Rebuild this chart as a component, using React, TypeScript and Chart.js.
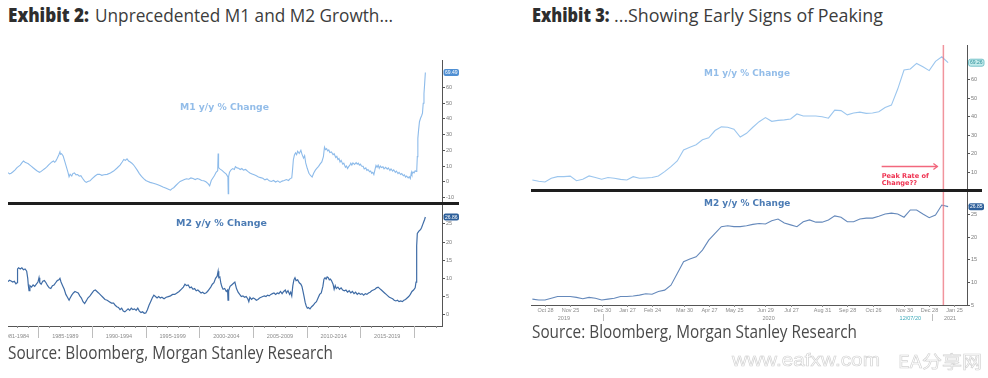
import React, { useEffect, useLayoutEffect, useRef } from "react";
import { Chart, registerables } from "chart.js";
Chart.register(...registerables);

// ---------- Exhibit 2: long history (decimal years) ----------
const m1LongYears = [1982.16,1982.3,1982.45,1982.6,1982.8,1983.0,1983.15,1983.3,1983.45,1983.6,1983.75,1983.9,1984.05,1984.2,1984.35,1984.5,1984.7,1984.85,1985.0,1985.1,1985.25,1985.4,1985.6,1985.8,1985.95,1986.1,1986.25,1986.4,1986.5,1986.6,1986.75,1986.9,1987.0,1987.05,1987.15,1987.3,1987.45,1987.6,1987.75,1987.85,1987.95,1988.1,1988.2,1988.35,1988.5,1988.65,1988.8,1988.95,1989.1,1989.3,1989.45,1989.6,1989.8,1990.0,1990.3,1990.5,1990.7,1990.9,1991.1,1991.4,1991.7,1992.0,1992.3,1992.6,1992.8,1992.95,1993.1,1993.25,1993.4,1993.55,1993.7,1993.85,1994.0,1994.2,1994.4,1994.6,1994.8,1995.0,1995.2,1995.4,1995.7,1996.0,1996.3,1996.6,1996.9,1997.1,1997.3,1997.45,1997.6,1997.8,1998.0,1998.2,1998.4,1998.6,1998.8,1999.0,1999.2,1999.4,1999.6,1999.8,2000.0,2000.2,2000.4,2000.6,2000.8,2000.95,2001.1,2001.25,2001.4,2001.55,2001.7,2001.74,2001.78,2001.9,2002.1,2002.3,2002.5,2002.65,2002.68,2002.72,2002.8,2002.95,2003.1,2003.25,2003.35,2003.5,2003.65,2003.8,2003.95,2004.1,2004.3,2004.5,2004.7,2004.9,2005.1,2005.3,2005.5,2005.7,2005.9,2006.1,2006.3,2006.5,2006.7,2006.9,2007.1,2007.3,2007.5,2007.7,2007.9,2008.1,2008.3,2008.45,2008.6,2008.68,2008.75,2008.85,2008.95,2009.05,2009.15,2009.3,2009.45,2009.55,2009.7,2009.8,2009.9,2010.05,2010.2,2010.35,2010.5,2010.65,2010.8,2010.95,2011.1,2011.25,2011.4,2011.55,2011.65,2011.75,2011.85,2011.95,2012.05,2012.15,2012.3,2012.45,2012.55,2012.7,2012.8,2012.9,2013.0,2013.1,2013.2,2013.35,2013.45,2013.6,2013.7,2013.8,2013.9,2014.0,2014.1,2014.2,2014.3,2014.45,2014.6,2014.7,2014.8,2014.9,2015.0,2015.1,2015.25,2015.35,2015.5,2015.6,2015.7,2015.85,2015.95,2016.05,2016.15,2016.25,2016.35,2016.45,2016.55,2016.65,2016.75,2016.85,2016.95,2017.1,2017.2,2017.35,2017.5,2017.6,2017.75,2017.85,2018.0,2018.1,2018.25,2018.35,2018.5,2018.6,2018.75,2018.85,2019.0,2019.1,2019.2,2019.3,2019.45,2019.55,2019.65,2019.75,2019.8,2019.9,2020.0,2020.1,2020.2,2020.25,2020.3,2020.35,2020.42,2020.5,2020.6,2020.7,2020.78,2020.85,2020.92,2020.98,2021.05];
const m1LongValues = [5.8,5.0,5.4,6.2,7.4,9.0,9.8,10.6,12.0,13.2,12.4,12.0,11.4,10.6,9.8,8.9,7.8,7.0,6.4,6.0,6.6,7.4,8.4,9.6,10.8,11.7,12.6,13.2,12.4,13.0,15.0,17.2,19.0,17.5,17.8,16.4,13.0,9.5,6.0,3.2,4.8,3.6,5.2,5.6,4.4,4.6,3.5,3.8,2.2,0.4,-0.4,0.2,0.6,2.0,3.8,4.8,4.7,4.1,4.5,4.7,5.6,6.8,8.6,10.6,12.6,14.2,13.6,14.6,13.2,12.6,11.8,10.8,9.4,7.4,5.2,3.4,2.0,0.8,0.2,-0.4,-1.0,-1.6,-2.4,-3.4,-4.2,-4.8,-5.4,-4.4,-3.8,-2.4,-1.0,0.2,0.8,1.4,1.9,1.6,2.4,2.0,1.4,2.0,1.6,0.8,0.6,0.0,-1.2,-2.6,0.8,2.4,4.0,6.0,7.0,18.0,9.0,8.2,7.2,6.0,4.8,3.0,-7.6,3.4,6.0,7.6,8.4,7.8,9.6,8.8,8.6,7.8,8.4,7.4,7.8,6.6,5.6,5.0,4.4,3.8,3.0,2.6,2.2,1.2,1.8,0.6,0.2,0.8,-0.2,0.6,-0.4,0.4,0.8,1.4,0.8,2.0,2.4,8.0,14.0,17.0,18.4,17.2,19.4,18.0,20.0,17.6,15.0,16.6,12.0,8.4,5.4,4.0,3.0,5.6,7.4,8.6,9.8,11.4,12.6,16.0,22.0,20.4,21.0,19.6,20.2,18.6,19.0,17.2,17.8,15.4,16.2,14.2,14.8,12.6,13.6,11.2,11.8,9.2,10.0,8.4,9.6,10.4,11.8,10.6,12.0,11.0,12.2,11.2,11.8,10.6,11.2,10.0,9.8,8.2,8.8,7.2,7.8,6.4,6.8,5.4,6.0,4.6,7.6,10.4,9.2,10.6,8.6,10.0,9.0,9.6,8.2,9.2,8.0,8.8,7.2,8.2,6.8,7.6,6.0,6.8,5.2,6.0,4.6,5.2,3.8,4.4,3.0,3.6,2.4,3.2,2.0,6.0,4.8,6.2,5.6,7.0,6.6,7.6,16.0,27.6,33.0,38.2,40.4,42.0,43.6,50.0,56.0,62.0,69.49];

const m2LongYears = [1982.16,1982.3,1982.45,1982.6,1982.75,1982.9,1983.0,1983.05,1983.15,1983.3,1983.45,1983.6,1983.75,1983.9,1984.0,1984.05,1984.12,1984.2,1984.35,1984.5,1984.65,1984.8,1984.95,1985.05,1985.12,1985.25,1985.4,1985.55,1985.7,1985.85,1986.0,1986.15,1986.3,1986.45,1986.6,1986.75,1986.9,1987.0,1987.1,1987.25,1987.4,1987.55,1987.7,1987.85,1987.95,1988.1,1988.25,1988.4,1988.55,1988.7,1988.85,1989.0,1989.15,1989.3,1989.45,1989.6,1989.8,1990.0,1990.15,1990.3,1990.45,1990.6,1990.8,1991.0,1991.2,1991.4,1991.6,1991.8,1992.0,1992.15,1992.3,1992.45,1992.6,1992.75,1992.9,1993.05,1993.2,1993.35,1993.5,1993.65,1993.8,1993.95,1994.1,1994.25,1994.4,1994.55,1994.7,1994.85,1995.0,1995.15,1995.3,1995.45,1995.6,1995.75,1995.9,1996.05,1996.2,1996.35,1996.5,1996.7,1996.9,1997.1,1997.3,1997.5,1997.7,1997.9,1998.1,1998.3,1998.5,1998.65,1998.8,1998.95,1999.1,1999.25,1999.4,1999.55,1999.7,1999.85,2000.0,2000.15,2000.3,2000.45,2000.6,2000.75,2000.9,2001.05,2001.2,2001.35,2001.5,2001.65,2001.74,2001.8,2001.9,2002.0,2002.1,2002.2,2002.35,2002.5,2002.62,2002.66,2002.72,2002.85,2003.0,2003.15,2003.3,2003.45,2003.6,2003.75,2003.9,2004.05,2004.2,2004.35,2004.5,2004.6,2004.7,2004.85,2005.0,2005.15,2005.3,2005.45,2005.6,2005.75,2005.9,2006.05,2006.2,2006.35,2006.5,2006.65,2006.8,2006.95,2007.1,2007.25,2007.4,2007.55,2007.7,2007.85,2008.0,2008.1,2008.25,2008.4,2008.5,2008.6,2008.7,2008.8,2008.9,2009.0,2009.15,2009.3,2009.45,2009.55,2009.65,2009.75,2009.85,2009.95,2010.05,2010.15,2010.3,2010.45,2010.6,2010.75,2010.9,2011.05,2011.2,2011.35,2011.5,2011.6,2011.7,2011.8,2011.9,2012.0,2012.1,2012.2,2012.3,2012.45,2012.55,2012.65,2012.75,2012.9,2013.05,2013.2,2013.35,2013.5,2013.65,2013.8,2013.95,2014.1,2014.25,2014.4,2014.55,2014.7,2014.85,2015.0,2015.15,2015.3,2015.45,2015.6,2015.75,2015.9,2016.05,2016.2,2016.35,2016.5,2016.65,2016.8,2016.95,2017.1,2017.25,2017.4,2017.55,2017.7,2017.85,2018.0,2018.15,2018.3,2018.45,2018.6,2018.75,2018.9,2019.05,2019.2,2019.35,2019.5,2019.65,2019.8,2019.95,2020.1,2020.18,2020.22,2020.26,2020.3,2020.4,2020.5,2020.6,2020.7,2020.8,2020.9,2020.98,2021.05];
const m2LongValues = [9.1,9.5,9.3,9.0,9.2,8.5,8.8,12.6,12.9,12.6,12.9,12.4,12.6,12.0,10.0,8.2,6.6,8.0,7.6,8.2,7.8,8.4,9.0,10.2,8.8,8.4,9.2,9.4,8.8,8.0,7.4,7.2,8.0,8.2,8.8,9.4,9.6,10.0,9.0,8.0,7.0,5.6,4.8,4.0,4.6,5.4,6.0,6.4,6.2,6.0,5.2,4.6,3.6,3.1,3.8,4.6,5.2,6.0,6.6,6.8,6.4,6.0,5.4,4.8,4.2,4.0,3.6,3.2,3.2,2.6,2.2,2.0,1.4,1.8,1.0,0.8,1.2,1.6,1.2,1.8,1.4,1.6,1.2,1.8,1.0,0.6,0.8,0.4,0.5,1.4,2.6,3.6,4.6,5.4,5.0,4.6,5.0,4.6,4.8,4.4,4.8,5.0,5.2,5.6,5.6,6.0,6.4,7.0,7.6,8.4,8.0,8.2,7.4,7.6,7.0,7.2,6.6,6.8,6.4,6.0,6.2,5.8,6.0,6.4,7.0,7.6,8.4,8.8,10.0,10.6,12.0,10.2,10.4,8.6,7.6,7.0,7.2,6.4,6.8,4.0,6.6,7.8,8.2,8.6,9.0,7.2,6.2,5.6,5.0,5.2,4.8,5.0,4.4,3.6,4.8,4.2,4.6,4.4,4.0,4.2,4.6,4.8,5.0,5.2,5.0,5.4,5.2,5.6,5.8,6.0,5.6,6.0,5.8,6.4,5.8,6.4,6.8,6.0,6.6,5.6,6.2,5.2,8.0,9.6,10.2,9.4,9.6,8.8,8.4,7.8,6.4,5.0,3.4,2.4,1.8,2.0,1.6,2.2,2.6,3.2,3.6,4.6,5.6,6.0,7.8,9.8,10.2,9.8,10.4,10.2,9.6,9.8,9.4,8.4,7.0,8.0,7.2,7.6,7.0,7.4,6.8,6.6,6.8,6.2,6.6,6.0,6.4,5.8,6.2,5.6,6.0,5.6,5.8,5.4,5.8,5.6,6.0,6.2,6.6,6.8,7.0,7.4,7.6,7.2,6.8,6.4,6.0,5.6,5.2,4.8,4.6,4.4,4.0,3.8,4.0,3.6,3.8,3.6,4.0,4.2,4.6,5.0,5.6,6.4,6.8,7.4,9.0,15.0,19.0,22.4,22.8,23.2,23.4,24.0,24.8,25.6,26.2,26.9];

const m1LongTicks = [-10, 0, 10, 20, 30, 40, 50, 60];
const m2LongTicks = [0, 5, 10, 15, 20, 25];
const longSeparators = [1985, 1990, 1995, 2000, 2005, 2010, 2015, 2020];
const longYearMarks = [1983,1984,1985,1986,1987,1988,1989,1990,1991,1992,1993,1994,1995,1996,1997,1998,1999,2000,2001,2002,2003,2004,2005,2006,2007,2008,2009,2010,2011,2012,2013,2014,2015,2016,2017,2018,2019,2020,2021,2022];
const longPeriodCenters = [1982.9, 1987.5, 1992.5, 1997.5, 2002.5, 2007.5, 2012.5, 2017.5];
const longPeriodLabels = ["1981-1984","1985-1989","1990-1994","1995-1999","2000-2004","2005-2009","2010-2014","2015-2019"];

// ---------- Exhibit 3: weekly, week 0 = Oct 14 2019 ----------
const m1WeeklyValues = [5.7,5.0,4.6,6.6,7.5,7.5,7.8,5.3,6.1,7.9,7.0,6.1,7.0,6.6,6.0,5.7,7.5,6.6,6.8,7.0,7.9,10.2,12.9,16.0,22.0,23.5,24.8,27.5,28.6,32.5,34.5,34.3,33.2,29.0,31.0,34.3,37.3,39.5,37.5,38.0,38.3,38.8,41.5,40.4,40.4,40.4,40.0,39.2,43.6,43.3,41.0,42.0,42.5,41.8,42.0,42.7,45.0,46.3,55.0,65.3,65.9,68.9,67.1,65.0,70.0,72.5,69.3];
const m2WeeklyValues = [6.3,6.1,6.1,6.5,6.9,6.9,6.9,6.7,6.4,6.7,6.5,6.1,6.3,6.5,6.9,6.9,7.0,7.2,7.5,7.4,8.0,8.3,9.4,12.0,14.6,15.2,15.7,17.2,19.4,20.9,22.4,22.6,22.4,22.4,22.6,22.9,23.1,23.0,23.7,24.1,23.2,22.8,22.4,23.5,23.9,23.4,23.4,23.9,24.8,24.5,23.5,23.5,24.1,24.3,24.3,24.7,25.2,25.4,25.2,24.5,26.1,26.1,25.2,24.4,25.0,27.2,26.85];
const m1WeeklyTicks = [10, 20, 30, 40, 50, 60];
const m2WeeklyTicks = [5, 10, 15, 20, 25];
const weekTickPos = [2,6,11,15,19,24,28,32,37,41,46,50,54,59,63,67];
const weekTickLabels = ["Oct 28","Nov 25","Dec 30","Jan 27","Feb 24","Mar 30","Apr 27","May 25","Jun 29","Jul 27","Aug 31","Sep 28","Oct 26","Nov 30","Dec 28","Jan 25"];
const weekYearPos = [5.0, 37.5, 66.3];
const weekYearLabels = ["2019", "2020", "2021"];
const weekYearBreaks = [11.25, 63.4];
const weekFlagPos = 60;
const weekFlagLabel = "12/07/20";
const peakWeek = 65.25;
const arrowFrom = 55.45, arrowTo = 64.3, arrowLevel = 13.4;
const noteLines = ["Peak Rate of", "Change??"];
const noteLevels = [7.9, 4.1];

const AX_FONT = '"Liberation Sans", Arial, sans-serif';

type Box = { value: number; text: string; bg: string; fg: string; border?: string };
type PanelProps = {
  left: number; top: number; width: number; height: number;
  xs: number[]; ys: number[]; color: string; lw: number;
  xMin: number; xMax: number; yMin: number; yMax: number; yTicks: number[];
  box: Box; bottom?: "years" | "weeks"; axisH?: number; peak?: boolean; note?: boolean;
};

function Panel(p: PanelProps) {
  const ref = useRef<HTMLCanvasElement>(null);
  useEffect(() => {
    const canvas = ref.current;
    if (!canvas) return;
    const overlay = {
      id: "overlay",
      afterDraw(chart: any) {
        const { ctx, chartArea: a, scales } = chart;
        const xs = scales.x, ys = scales.y;
        ctx.save();
        if (p.peak) {
          const px = xs.getPixelForValue(peakWeek);
          ctx.strokeStyle = "rgba(236,112,124,0.75)";
          ctx.lineWidth = 1.5;
          ctx.beginPath(); ctx.moveTo(px, a.top); ctx.lineTo(px, a.bottom); ctx.stroke();
        }
        if (p.note) {
          const x0 = xs.getPixelForValue(arrowFrom), x1 = xs.getPixelForValue(arrowTo);
          const ay = Math.round(ys.getPixelForValue(arrowLevel)) + 0.5;
          ctx.strokeStyle = "#f2677d"; ctx.lineWidth = 1.3;
          ctx.beginPath(); ctx.moveTo(x0, ay); ctx.lineTo(x1, ay); ctx.stroke();
          ctx.beginPath(); ctx.moveTo(x1 - 4, ay - 3); ctx.lineTo(x1, ay); ctx.lineTo(x1 - 4, ay + 3); ctx.stroke();
          ctx.fillStyle = "#ef3352";
          ctx.font = 'bold 6.6px "DejaVu Sans", sans-serif';
          ctx.textAlign = "left"; ctx.textBaseline = "middle";
          noteLines.forEach((t, i) => ctx.fillText(t, x0, ys.getPixelForValue(noteLevels[i])));
        }
        // last value box on the axis
        const by = ys.getPixelForValue(p.box.value);
        const bx = a.right + 1.5;
        ctx.fillStyle = p.box.bg;
        ctx.beginPath();
        (ctx as any).roundRect(bx, by - 3.5, 15.5, 7, 2);
        ctx.fill();
        if (p.box.border) { ctx.strokeStyle = p.box.border; ctx.lineWidth = 0.8; ctx.stroke(); }
        ctx.fillStyle = p.box.fg;
        ctx.font = `5px ${AX_FONT}`;
        ctx.textAlign = "center"; ctx.textBaseline = "middle";
        ctx.fillText(p.box.text, bx + 7.75, by + 0.3);
        // bottom axis decorations
        const yb = a.bottom;
        ctx.strokeStyle = "#8a8a8a"; ctx.lineWidth = 1;
        ctx.fillStyle = "#8a8a8a";
        ctx.font = `5.5px ${AX_FONT}`;
        ctx.textAlign = "center"; ctx.textBaseline = "middle";
        if (p.bottom === "years") {
          longYearMarks.forEach((v) => {
            const px = Math.round(xs.getPixelForValue(v)) + 0.5;
            ctx.beginPath(); ctx.moveTo(px, yb); ctx.lineTo(px, yb + 2); ctx.stroke();
          });
          ctx.strokeStyle = "#bdbdbd";
          longSeparators.forEach((v) => {
            const px = Math.round(xs.getPixelForValue(v)) + 0.5;
            ctx.beginPath(); ctx.moveTo(px, yb); ctx.lineTo(px, yb + 12); ctx.stroke();
          });
          longPeriodLabels.forEach((t, i) => ctx.fillText(t, xs.getPixelForValue(longPeriodCenters[i]), yb + 10));
        }
        if (p.bottom === "weeks") {
          weekTickPos.forEach((v, i) => {
            const px = Math.round(xs.getPixelForValue(v)) + 0.5;
            ctx.beginPath(); ctx.moveTo(px, yb); ctx.lineTo(px, yb + 2); ctx.stroke();
            ctx.fillText(weekTickLabels[i], px, yb + 5.5);
          });
          weekYearLabels.forEach((t, i) => ctx.fillText(t, xs.getPixelForValue(weekYearPos[i]), yb + 13));
          ctx.strokeStyle = "#bdbdbd";
          weekYearBreaks.forEach((v) => {
            const px = Math.round(xs.getPixelForValue(v)) + 0.5;
            ctx.beginPath(); ctx.moveTo(px, yb + 9); ctx.lineTo(px, yb + 16); ctx.stroke();
          });
          ctx.fillStyle = "#3aa9b9";
          ctx.fillText(weekFlagLabel, xs.getPixelForValue(weekFlagPos), yb + 13);
        }
        ctx.restore();
      },
    };
    const chart = new Chart(canvas, {
      type: "line",
      data: {
        datasets: [{
          data: p.xs.map((x, i) => ({ x, y: p.ys[i] })),
          borderColor: p.color, borderWidth: p.lw, pointRadius: 0, tension: 0, fill: false,
        }],
      },
      options: {
        animation: false, responsive: false, maintainAspectRatio: false, events: [],
        layout: { padding: 0 },
        plugins: { legend: { display: false }, tooltip: { enabled: false } },
        scales: {
          x: {
            type: "linear", min: p.xMin, max: p.xMax, display: !!p.bottom,
            ticks: { display: false }, grid: { display: false },
            border: { display: true, color: "#555", width: 1 },
            afterFit: (s: any) => { s.height = p.axisH || 0; s.paddingLeft = 0; s.paddingRight = 0; },
          },
          y: {
            type: "linear", position: "right", min: p.yMin, max: p.yMax,
            afterBuildTicks: (s: any) => { s.ticks = p.yTicks.map((v) => ({ value: v })); },
            ticks: { font: { size: 5.5, family: AX_FONT }, color: "#7a7a7a", padding: 1, autoSkip: false, maxRotation: 0 },
            grid: { drawOnChartArea: false, drawTicks: true, tickLength: 3, color: "#555" },
            border: { display: true, color: "#555", width: 1 },
            afterFit: (s: any) => { s.width = 22; s.paddingTop = 0; s.paddingBottom = 0; },
          },
        },
      } as any,
      plugins: [overlay],
    });
    return () => chart.destroy();
  }, []);
  return (
    <canvas ref={ref} width={p.width} height={p.height}
      style={{ position: "absolute", left: p.left, top: p.top, width: p.width, height: p.height }} />
  );
}

type FitProps = { x: number; w: number; base: number; size: number; off: number; family: string; weight?: number; color: string; text: string; stroke?: string };
function FitText({ x, w, base, size, off, family, weight = 400, color, text, stroke }: FitProps) {
  const ref = useRef<HTMLSpanElement>(null);
  useLayoutEffect(() => {
    const el = ref.current;
    if (!el) return;
    el.style.transform = "none";
    const nat = el.getBoundingClientRect().width;
    if (nat > 0) el.style.transform = `scaleX(${w / nat})`;
  }, [w, text]);
  return (
    <span ref={ref} style={{
      position: "absolute", left: x, top: base - off * size, fontFamily: family, fontSize: size,
      fontWeight: weight, lineHeight: `${size}px`, color, whiteSpace: "pre", transformOrigin: "0 0",
      WebkitTextStroke: stroke,
    } as any}>{text}</span>
  );
}

const OPEN = '"Open Sans", sans-serif';
const OPEN_OFF = 0.888;
const DJ = '"DejaVu Sans", sans-serif';
const DJ_OFF = 0.846;

export default function App() {
  const weeks = m1WeeklyValues.map((_, i) => i);
  return (
    <div style={{ position: "fixed", left: 0, top: 0, width: 988, height: 378, background: "#fff", overflow: "hidden" }}>
      <FitText x={8} w={81} base={22.7} size={18.6} off={OPEN_OFF} family={OPEN} weight={800} color="#2e2e2e" text="Exhibit 2:" />
      <FitText x={95} w={298} base={22.7} size={18.6} off={OPEN_OFF} family={OPEN} color="#3c3c3c" text="Unprecedented M1 and M2 Growth..." />
      <FitText x={531.5} w={77.5} base={22.7} size={18.6} off={OPEN_OFF} family={OPEN} weight={800} color="#2e2e2e" text="Exhibit 3:" />
      <FitText x={614} w={269} base={22.7} size={18.6} off={OPEN_OFF} family={OPEN} color="#3c3c3c" text="...Showing Early Signs of Peaking" />

      <Panel left={8} top={60} width={456} height={142} xs={m1LongYears} ys={m1LongValues} color="#8dbbea" lw={1.1}
        xMin={1982.16} xMax={2022.6} yMin={-12.9} yMax={77.5} yTicks={m1LongTicks}
        box={{ value: 69.49, text: "69.49", bg: "#4f8fd3", fg: "#fff" }} />
      <Panel left={8} top={205} width={456} height={137} xs={m2LongYears} ys={m2LongValues} color="#3f6ca6" lw={1.2}
        xMin={1982.16} xMax={2022.6} yMin={-3.1} yMax={30.2} yTicks={m2LongTicks} bottom="years" axisH={16}
        box={{ value: 26.9, text: "26.86", bg: "#2d5f9a", fg: "#fff" }} />

      <Panel left={531} top={45} width={458} height={144} xs={weeks} ys={m1WeeklyValues} color="#9cc6ee" lw={1.1}
        xMin={-0.22} xMax={69} yMin={0.8} yMax={78.9} yTicks={m1WeeklyTicks} peak note
        box={{ value: 69.3, text: "69.26", bg: "#c4ebeb", fg: "#2a8f99", border: "#5fb8c0" }} />
      <Panel left={531} top={192} width={458} height={131} xs={weeks} ys={m2WeeklyValues} color="#6589bb" lw={1.1}
        xMin={-0.22} xMax={69} yMin={5} yMax={30.1} yTicks={m2WeeklyTicks} bottom="weeks" axisH={18} peak
        box={{ value: 26.85, text: "26.85", bg: "#2d5f9a", fg: "#fff" }} />

      <div style={{ position: "absolute", left: 8, top: 202, width: 451, height: 3, background: "#1e1e1e" }} />
      <div style={{ position: "absolute", left: 531, top: 189, width: 451, height: 3, background: "#1e1e1e" }} />

      <FitText x={180} w={89} base={110} size={9.2} off={DJ_OFF} family={DJ} weight={700} color="#93bde9" text="M1 y/y % Change" />
      <FitText x={176} w={91} base={225.7} size={9.2} off={DJ_OFF} family={DJ} weight={700} color="#4b7bb4" text="M2 y/y % Change" />
      <FitText x={704.3} w={86} base={76} size={9.2} off={DJ_OFF} family={DJ} weight={700} color="#93bde9" text="M1 y/y % Change" />
      <FitText x={704.3} w={86.4} base={206} size={9.2} off={DJ_OFF} family={DJ} weight={700} color="#4b7bb4" text="M2 y/y % Change" />

      <FitText x={8.3} w={325} base={359} size={18.2} off={OPEN_OFF} family={OPEN} color="#4a4a4a" text="Source: Bloomberg, Morgan Stanley Research" />
      <FitText x={531.7} w={325} base={339.3} size={17.8} off={OPEN_OFF} family={OPEN} color="#4a4a4a" text="Source: Bloomberg, Morgan Stanley Research" />

      <FitText x={731.7} w={148} base={366.7} size={17.7} off={0.8465} family={'"Liberation Sans", sans-serif'} color="#fff" stroke="0.6px #d2d2d2" text="www.eafxw.com" />
      <FitText x={898} w={84} base={366.7} size={17} off={0.88} family={'"Noto Sans CJK SC", sans-serif'} color="#fff" stroke="0.6px #d2d2d2" text="EA分享网" />
    </div>
  );
}
